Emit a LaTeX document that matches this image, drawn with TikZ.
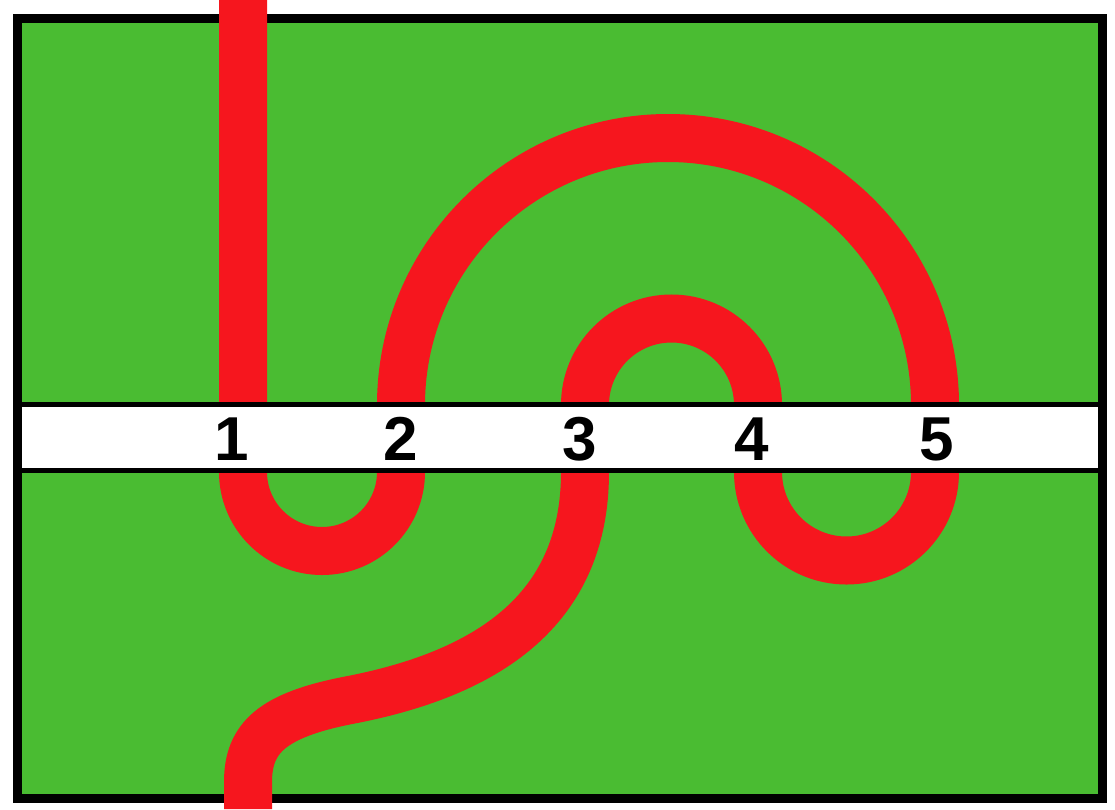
\documentclass[tikz,border=0pt]{standalone}
\usepackage{fontspec}
\setmainfont{Liberation Sans}
\definecolor{fieldgreen}{RGB}{74,188,50}
\definecolor{wirered}{RGB}{246,22,30}
\tikzset{
  field/.style={fill=fieldgreen},
  frame/.style={draw=black, line width=9pt},
  wire/.style={draw=wirered, line width=48pt},
  strip/.style={fill=white},
  stripline/.style={draw=black, line width=5pt},
  num/.style={font=\fontsize{62}{62}\selectfont\bfseries, inner sep=0pt},
}
\begin{document}
\begin{tikzpicture}[x=1pt, y=-1pt]
    \useasboundingbox (0,0) rectangle (1115,809);
    % field and frame
    \fill[field] (17,18) rectangle (1102,798);
    \draw[frame] (17,18) rectangle (1102,798);

    % the wire
    \draw[wire] (243,0) -- (243,472) arc (180:0:79) -- (401,405)
        arc (180:360:267) -- (935,472) arc (0:180:88.5) -- (758,405)
        arc (0:-180:86.5) -- (585,472)
        .. controls (585,605) and (495,672) .. (350,700)
        .. controls (272,715) and (248,738) .. (248,782) -- (248,809);

    % white strip
    \fill[strip] (21.5,404) rectangle (1097.5,470);
    \draw[stripline] (21.5,404) -- (1097.5,404);
    \draw[stripline] (21.5,470) -- (1097.5,470);

    % numbers
    \foreach \x/\n in {232/1, 401/2, 580/3, 752/4, 937/5}
        \node[num] (n\n) at (\x,439) {\n};
\end{tikzpicture}
\end{document}
